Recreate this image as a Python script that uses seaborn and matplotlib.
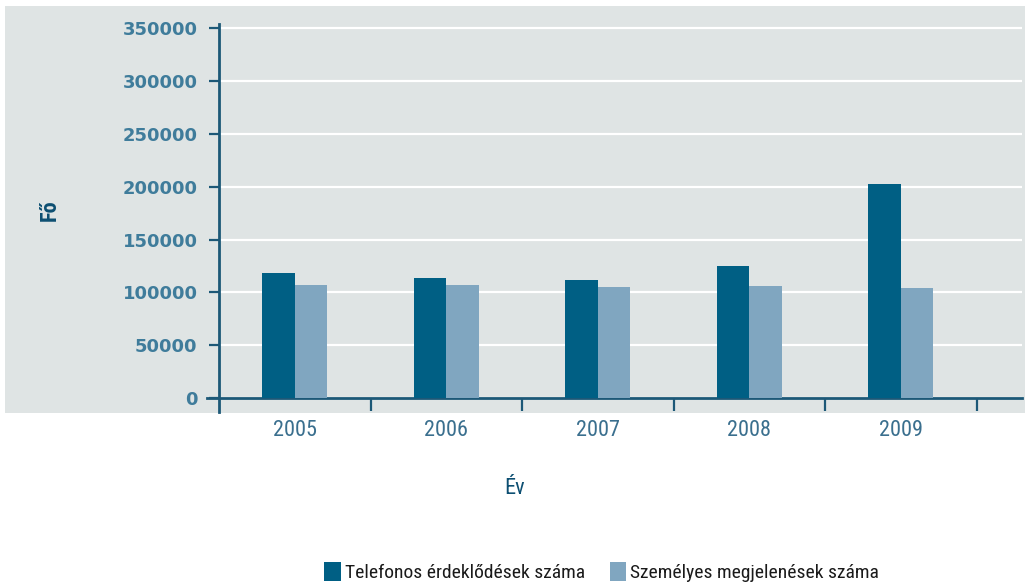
import pandas as pd
import matplotlib.pyplot as plt
import seaborn as sns
from matplotlib.patches import Rectangle, Patch
from matplotlib.ticker import FixedLocator

# Data
years = ['2005', '2006', '2007', '2008', '2009']
telefonos = [118200, 113500, 111600, 124800, 202400]
szemelyes = [106900, 107000, 105000, 106000, 104000]
series_names = ['Telefonos érdeklődések száma', 'Személyes megjelenések száma']
yticks = [0, 50000, 100000, 150000, 200000, 250000, 300000, 350000]

df = pd.DataFrame({
    'Év': years * 2,
    'Fő': telefonos + szemelyes,
    'Sorozat': [series_names[0]] * 5 + [series_names[1]] * 5,
})

dark = '#005f84'
light = '#80a6c0'
bg = '#dfe4e4'
axis_col = '#1c5877'
tick_col = '#3f7c9b'
narrow = ['Liberation Sans Narrow', 'DejaVu Sans Condensed', 'Roboto Condensed',
          'Open Sans Condensed', 'Liberation Sans']

sns.set_theme(style='white')
plt.rcParams['font.family'] = ['DejaVu Sans']

fig = plt.figure(figsize=(10.25, 5.85), dpi=100)
fig.patch.set_facecolor('white')
fig.patches.append(Rectangle((5 / 1025, 1 - 413 / 585), 1020 / 1025, 407 / 585,
                             transform=fig.transFigure, facecolor=bg, edgecolor='none', zorder=-10))

ax = fig.add_axes([219 / 1025, 1 - 412 / 585, 803 / 1025, 388 / 585])
ax.set_facecolor('none')

sns.barplot(data=df, x='Év', y='Fő', hue='Sorozat', order=years,
            palette=[dark, light], width=0.43, gap=0, saturation=1,
            linewidth=0, legend=False, ax=ax, zorder=3)

ax.set_xlim(-0.5, 4.8)
ax.set_ylim(-13240, 354000)
ax.set_yticks(yticks)
ax.set_yticklabels([str(v) for v in yticks], fontsize=13, fontweight='bold', color=tick_col)
ax.yaxis.grid(True, color='white', linewidth=1.6, zorder=0)
ax.set_axisbelow(True)

ax.spines['top'].set_visible(False)
ax.spines['right'].set_visible(False)
ax.spines['bottom'].set_position(('data', 0))
for s in ['left', 'bottom']:
    ax.spines[s].set_color(axis_col)
    ax.spines[s].set_linewidth(2)
ax.spines['bottom'].set_bounds(-0.58, 4.8)

ax.tick_params(axis='y', length=7.5, width=1.6, color=axis_col, direction='out', pad=8, left=True)
ax.tick_params(axis='x', which='major', length=0, pad=16)
ax.xaxis.set_minor_locator(FixedLocator([0.5, 1.5, 2.5, 3.5, 4.5]))
ax.tick_params(axis='x', which='minor', length=9, width=1.6, color=axis_col, direction='out', bottom=True)

for lbl in ax.get_xticklabels():
    lbl.set_family(narrow)
    lbl.set_fontsize(16)
    lbl.set_color('#3a6f8e')

ax.set_xlabel('Év', family=narrow, fontsize=16, color='#0d4f72')
ax.xaxis.set_label_coords((515 - 219) / 803, -0.17)
ax.set_ylabel('Fő', family=narrow, fontsize=16, fontweight='semibold', color='#0d4f72')
ax.yaxis.set_label_coords(-0.197, 0.52)

handles = [Patch(facecolor=dark, edgecolor='none'), Patch(facecolor=light, edgecolor='none')]
fig.legend(handles, series_names, loc='center', bbox_to_anchor=(0.587, 1 - 572 / 585), ncol=2,
           frameon=False, handlelength=0.85, handleheight=1.1, handletextpad=0.2, columnspacing=1.3,
           prop={'family': narrow, 'size': 14}, labelcolor='#1a1a1a')

fig.savefig('out.png', dpi=100, facecolor='white')
